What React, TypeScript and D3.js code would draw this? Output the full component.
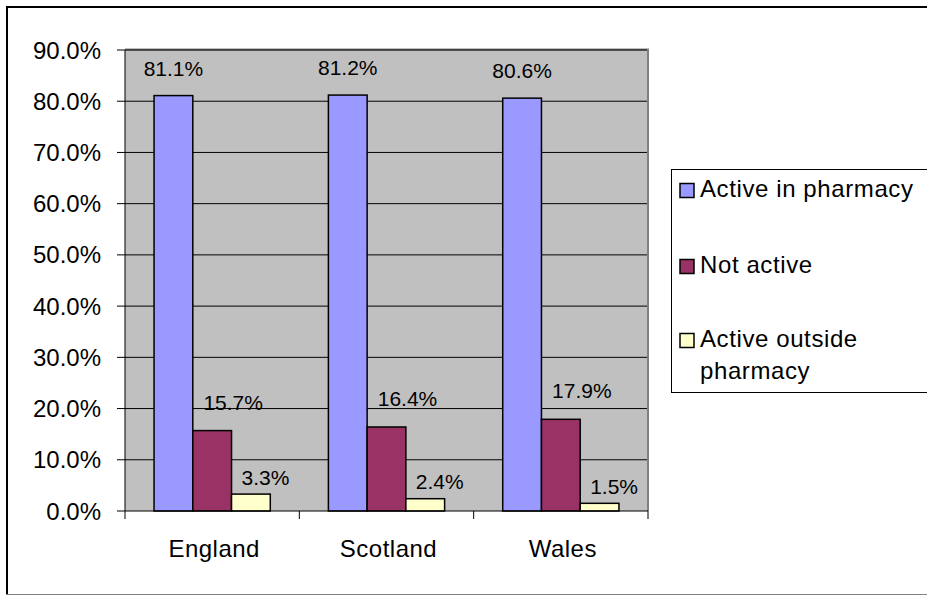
import React from "react";
import * as d3 from "d3";

// Share of registered pharmacists by activity status
const regions = ["England", "Scotland", "Wales"];
const seriesNames = ["Active in pharmacy", "Not active", "Active outside pharmacy"];
const activeInPharmacy = [81.1, 81.2, 80.6];
const notActive = [15.7, 16.4, 17.9];
const activeOutside = [3.3, 2.4, 1.5];
const yTicks = [0, 10, 20, 30, 40, 50, 60, 70, 80, 90];

const seriesValues = [activeInPharmacy, notActive, activeOutside];
const seriesColors = ["#9999FF", "#993366", "#FFFFCC"];
// value-label nudges per series (dx right, gap above bar top)
const labelNudge = [
  { dx: 0, gap: 20 },
  { dx: 21, gap: 21 },
  { dx: 14.5, gap: 9.5 },
];

const W = 927;
const H = 595;
const plot = { left: 125, right: 648, top: 50, bottom: 511 };
const FONT = "'Liberation Sans', Arial, sans-serif";

export default function App() {
  const y = d3.scaleLinear().domain([0, 90]).range([plot.bottom, plot.top]);
  const x0 = d3
    .scaleBand<string>()
    .domain(regions)
    .range([plot.left, plot.right])
    .paddingInner(1 / 3)
    .paddingOuter(1 / 6);
  const x1 = d3
    .scaleBand<number>()
    .domain(d3.range(seriesNames.length))
    .range([0, x0.bandwidth()]);
  const step = x0.step();
  const fmt = (v: number) => v.toFixed(1) + "%";

  const legendRows = [
    { lines: ["Active in pharmacy"], baseline: 197 },
    { lines: ["Not active"], baseline: 273 },
    { lines: ["Active outside", "pharmacy"], baseline: 347 },
  ];

  return (
    <svg
      width={W}
      height={H}
      style={{ position: "absolute", left: 0, top: 0, background: "#fff" }}
      fontFamily={FONT}
    >
      {/* chart frame */}
      <line x1={6} x2={W} y1={7} y2={7} stroke="#000" strokeWidth={2} />
      <line x1={7} x2={7} y1={6} y2={594} stroke="#000" strokeWidth={2} />
      <line x1={6} x2={W} y1={594.5} y2={594.5} stroke="#808080" strokeWidth={1} />

      {/* plot area */}
      <rect
        x={plot.left}
        y={plot.top}
        width={plot.right - plot.left}
        height={plot.bottom - plot.top}
        fill="#C0C0C0"
      />
      <line x1={plot.left} x2={plot.right + 1} y1={plot.top - 0.5} y2={plot.top - 0.5} stroke="#808080" strokeWidth={2} />
      <line x1={plot.right} x2={plot.right} y1={plot.top - 1} y2={plot.bottom} stroke="#808080" strokeWidth={2} />

      {/* gridlines, y ticks and labels */}
      {yTicks.map((t) => (
        <g key={t}>
          {t > 0 && (
            <line x1={plot.left} x2={plot.right - 1} y1={y(t)} y2={y(t)} stroke="#000" strokeWidth={1} />
          )}
          <line x1={plot.left - 8} x2={plot.left} y1={y(t)} y2={y(t)} stroke="#000" strokeWidth={1} />
          <text x={plot.left - 24} y={y(t) + 8.5} textAnchor="end" fontSize={24} fill="#000">
            {fmt(t)}
          </text>
        </g>
      ))}

      {/* bars */}
      {regions.map((r, ci) => (
        <g key={r} transform={`translate(${x0(r)},0)`}>
          {seriesValues.map((vals, si) => (
            <rect
              key={si}
              x={x1(si)}
              y={y(vals[ci])}
              width={x1.bandwidth()}
              height={y(0) - y(vals[ci])}
              fill={seriesColors[si]}
              stroke="#000"
              strokeWidth={1.5}
            />
          ))}
          {seriesValues.map((vals, si) => (
            <text
              key={"l" + si}
              x={(x1(si) as number) + x1.bandwidth() / 2 + labelNudge[si].dx}
              y={y(vals[ci]) - labelNudge[si].gap}
              textAnchor="middle"
              fontSize={21}
              fill="#000"
            >
              {fmt(vals[ci])}
            </text>
          ))}
        </g>
      ))}

      {/* axes */}
      <line x1={plot.left} x2={plot.left} y1={plot.top} y2={plot.bottom} stroke="#000" strokeWidth={1} />
      <line x1={plot.left} x2={plot.right} y1={plot.bottom} y2={plot.bottom} stroke="#000" strokeWidth={1} />
      {d3.range(regions.length + 1).map((i) => {
        const xx = plot.left + i * step;
        return <line key={i} x1={xx} x2={xx} y1={plot.bottom} y2={plot.bottom + 8} stroke="#000" strokeWidth={1} />;
      })}
      {regions.map((r) => (
        <text
          key={r}
          x={(x0(r) as number) + x0.bandwidth() / 2 + 2}
          y={557}
          textAnchor="middle"
          fontSize={24}
          letterSpacing={0.5}
          fill="#000"
        >
          {r}
        </text>
      ))}

      {/* legend */}
      <rect x={671.5} y={169.5} width={300} height={223} fill="#fff" stroke="#000" strokeWidth={1} />
      {legendRows.map((row, i) => (
        <g key={seriesNames[i]}>
          <rect
            x={680}
            y={row.baseline - 13.5}
            width={14}
            height={14}
            fill={seriesColors[i]}
            stroke="#000"
            strokeWidth={1.5}
          />
          {row.lines.map((ln, li) => (
            <text key={li} x={700} y={row.baseline + li * 32} fontSize={24} letterSpacing={0.6} fill="#000">
              {ln}
            </text>
          ))}
        </g>
      ))}
    </svg>
  );
}
